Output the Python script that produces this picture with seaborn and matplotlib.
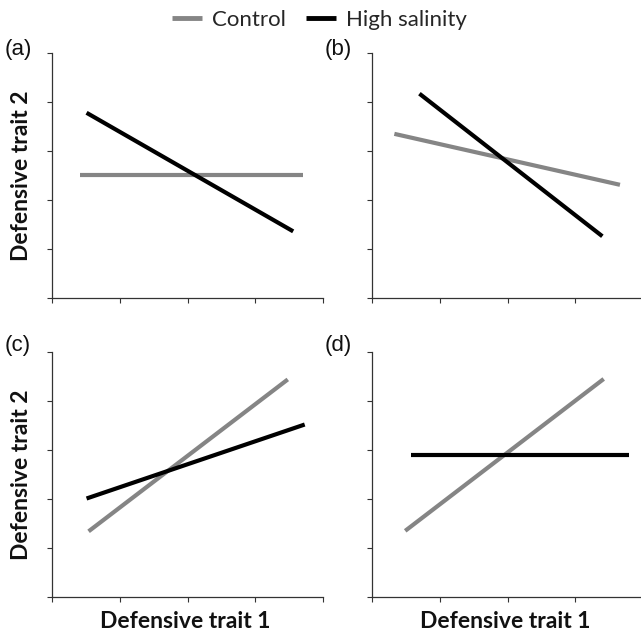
import matplotlib
matplotlib.use("Agg")
import matplotlib.pyplot as plt
import seaborn as sns
import pandas as pd
from matplotlib.lines import Line2D

sns.set_theme(style="ticks")
plt.rcParams['font.family'] = ['Lato', 'DejaVu Sans']

panels = ['(a)', '(b)', '(c)', '(d)']
groups = ['Control', 'High salinity']
control_x = [(0.42, 3.71), (0.33, 3.66), (0.54, 3.48), (0.49, 3.42)]
control_y = [(2.52, 2.52), (3.35, 2.31), (1.34, 4.44), (1.35, 4.45)]
saline_x = [(0.51, 3.56), (0.70, 3.40), (0.51, 3.73), (0.57, 3.79)]
saline_y = [(3.78, 1.36), (4.17, 1.26), (2.01, 3.52), (2.90, 2.90)]
x_ticks = [0, 1, 2, 3, 4]
y_ticks = [0, 1, 2, 3, 4, 5]
x_label = 'Defensive trait 1'
y_label = 'Defensive trait 2'

rows = []
for i, p in enumerate(panels):
    for g, xs, ys in ((groups[0], control_x[i], control_y[i]), (groups[1], saline_x[i], saline_y[i])):
        for xv, yv in zip(xs, ys):
            rows.append({'panel': p, 'group': g, 'x': xv, 'y': yv})
df = pd.DataFrame(rows)

palette = {'Control': '#858585', 'High salinity': '#000000'}

fig = plt.figure(figsize=(6.41, 6.32), dpi=100)
W, H = 641, 632
boxes = [(52, 53, 271, 245), (372, 53, 271, 245), (52, 352, 271, 245), (372, 352, 271, 245)]
label_y = [50, 50, 346, 346]

for i, p in enumerate(panels):
    l, t, w, h = boxes[i]
    ax = fig.add_axes([l / W, 1 - (t + h) / H, w / W, h / H])
    sub = df[df['panel'] == p]
    sns.lineplot(data=sub, x='x', y='y', hue='group', palette=palette, ax=ax,
                 linewidth=3.0, legend=False, estimator=None, sort=False)
    for ln in ax.lines:
        ln.set_solid_capstyle('butt')
    ax.set_xlim(0, 4)
    ax.set_ylim(0, 5)
    ax.set_xticks(x_ticks)
    ax.set_yticks(y_ticks)
    ax.set_xticklabels([])
    ax.set_yticklabels([])
    ax.tick_params(length=3.5, width=0.8, color='#333333', direction='out')
    for s in ('top', 'right'):
        ax.spines[s].set_visible(False)
    for s in ('left', 'bottom'):
        ax.spines[s].set_linewidth(0.9)
        ax.spines[s].set_color('#333333')
    ax.set_xlabel('')
    ax.set_ylabel('')
    fig.text((l - 47) / W, 1 - label_y[i] / H, p, fontsize=16, family='Liberation Sans',
             ha='left', va='center', color='#111111')
    if i in (0, 2):
        fig.text(22 / W, 1 - (t + h / 2) / H, y_label, rotation=90, fontsize=16.5,
                 fontweight='bold', ha='center', va='center', color='#111111')
    if i in (2, 3):
        fig.text((l + w / 2 - 2) / W, 1 - 628 / H, x_label, fontsize=16.5,
                 fontweight='bold', ha='center', va='baseline', color='#111111')

handles = [Line2D([], [], color=palette[g], lw=3.5, solid_capstyle='butt') for g in groups]
fig.legend(handles, groups, loc='center', bbox_to_anchor=(319 / W, 1 - 20 / H), ncol=2,
           frameon=False, fontsize=16, handlelength=1.35, handletextpad=0.45,
           columnspacing=0.9, borderpad=0, borderaxespad=0)

fig.savefig('out.png', dpi=100)
